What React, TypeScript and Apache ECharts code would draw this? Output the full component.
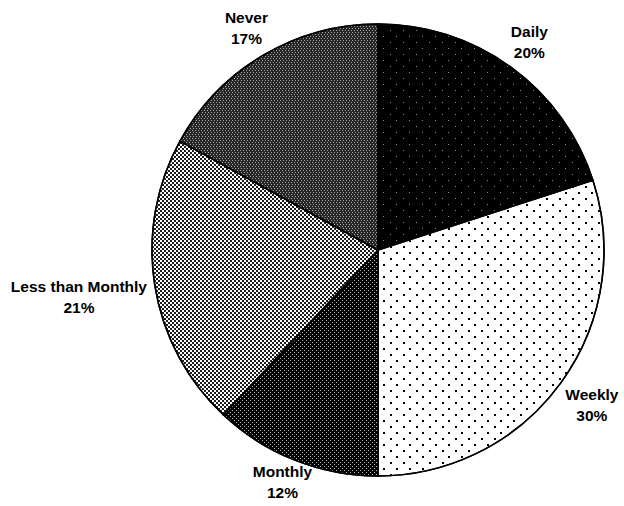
import React, { useEffect, useRef } from "react";
import * as echarts from "echarts";

const categories = ["Daily", "Weekly", "Monthly", "Less than Monthly", "Never"];
const values = [20, 30, 12, 21, 17];

const WIDTH = 624;
const HEIGHT = 506;
const CX = 378;
const CY = 250;
const RADIUS = 226;
const GAP = 7;

const baseColors = ["#000000", "#ffffff", "#000000", "#ffffff", "#262626"];
const decals: any[] = [
  {
    symbol: "rect",
    symbolSize: 1,
    color: "#8c8c8c",
    dashArrayX: [[1, 12], [0, 6, 1, 6]],
    dashArrayY: [1, 5],
  },
  {
    symbol: "rect",
    symbolSize: 1,
    color: "#000000",
    dashArrayX: [[2, 11], [0, 6, 2, 5]],
    dashArrayY: [2, 4],
  },
  {
    symbol: "rect",
    symbolSize: 1,
    color: "#bbbbbb",
    dashArrayX: [[1, 3], [0, 2, 1, 1]],
    dashArrayY: [1, 1],
  },
  {
    symbol: "rect",
    symbolSize: 1,
    color: "#1e1e1e",
    dashArrayX: [[2, 2], [0, 2, 2, 0]],
    dashArrayY: [2, 0],
  },
  {
    symbol: "rect",
    symbolSize: 1,
    color: "#a8a8a8",
    dashArrayX: [[1, 2], [0, 1, 1, 1]],
    dashArrayY: [1, 1],
  },
];

export default function App() {
  const ref = useRef<HTMLDivElement>(null);

  useEffect(() => {
    document.body.style.margin = "0";
    if (!ref.current) return;
    const chart = echarts.init(ref.current, null, { renderer: "svg" });
    const total = values.reduce((a, b) => a + b, 0);

    chart.setOption({
      animation: false,
      backgroundColor: "#ffffff",
      series: [
        {
          type: "pie",
          center: [CX, CY],
          radius: RADIUS,
          startAngle: 90,
          clockwise: true,
          avoidLabelOverlap: false,
          emphasis: { disabled: true },
          itemStyle: { borderColor: "#000000", borderWidth: 1.5 },
          label: {
            show: true,
            position: "outside",
            formatter: (p: any) => `${p.name}\n${p.value}%`,
            fontFamily: "Arial, 'Liberation Sans', sans-serif",
            fontWeight: "bold",
            fontSize: 15.5,
            lineHeight: 21,
            color: "#000000",
          },
          labelLine: { show: false },
          labelLayout: (p: any) => {
            const i = p.dataIndex;
            let before = 0;
            for (let k = 0; k < i; k++) before += values[k];
            const mid = ((90 - ((before + values[i] / 2) / total) * 360) * Math.PI) / 180;
            const c = Math.cos(mid);
            const s = Math.sin(mid);
            const w = p.labelRect.width;
            const h = p.labelRect.height * 0.8;
            const d = RADIUS + GAP + (w / 2) * Math.abs(c) + (h / 2) * Math.abs(s);
            const x = CX + d * c;
            const y = Math.min(CY - d * s, HEIGHT - p.labelRect.height / 2 - 3);
            return { x, y, align: "center", verticalAlign: "middle" };
          },
          data: categories.map((name, i) => ({
            name,
            value: values[i],
            itemStyle: { color: baseColors[i], decal: decals[i] },
          })),
        },
      ],
    });

    return () => chart.dispose();
  }, []);

  return <div ref={ref} style={{ width: WIDTH, height: HEIGHT }} />;
}
